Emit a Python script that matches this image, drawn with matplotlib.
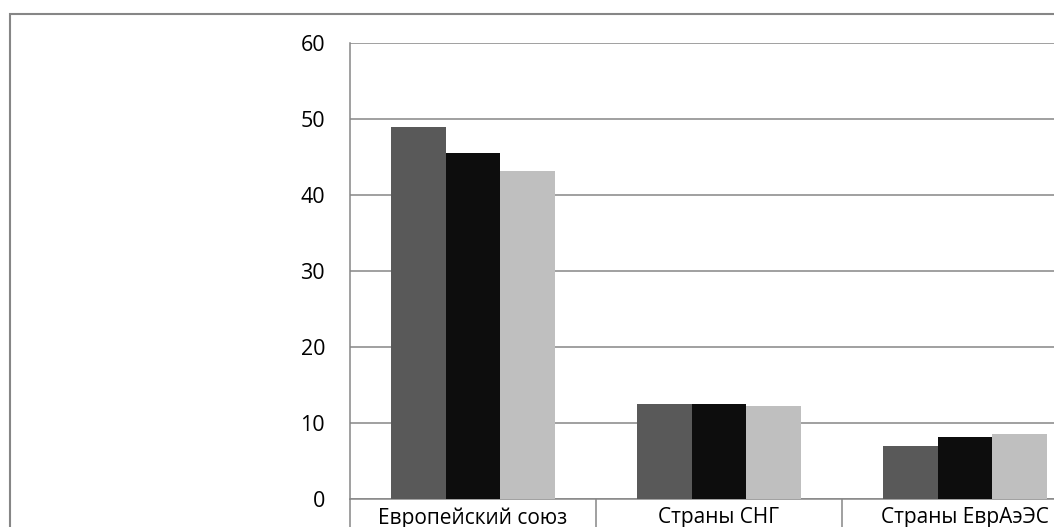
import matplotlib.pyplot as plt
import matplotlib.patches as patches
import numpy as np

# Datos
categorias = ['Европейский союз', 'Страны СНГ', 'Страны ЕврАэЭС']
serie1 = [48.9, 12.45, 7.0]
serie2 = [45.5, 12.45, 8.1]
serie3 = [43.1, 12.25, 8.55]
colores = ['#595959', '#0d0d0d', '#bfbfbf']
yticks = [0, 10, 20, 30, 40, 50, 60]

plt.rcParams['font.family'] = ['Open Sans', 'DejaVu Sans']

fig = plt.figure(figsize=(10.54, 5.27), dpi=100)
ax = fig.add_axes([350/1054, 28/527, 738/1054, 456/527])

# marco exterior (cortado por la derecha y abajo)
marco = patches.Rectangle((10/1054, -0.2), 1.2, (527-14)/527 + 0.2,
                          transform=fig.transFigure, fill=False,
                          edgecolor='#868686', linewidth=1.5, clip_on=False)
fig.patches.append(marco)

x = np.arange(len(categorias))
w = 1/4.5
for i, (s, c) in enumerate(zip([serie1, serie2, serie3], colores)):
    ax.bar(x + (i - 1)*w, s, width=w, color=c, zorder=3)

ax.set_xlim(-0.5, 2.5)
ax.set_ylim(0, 60)
ax.set_yticks(yticks)
ax.yaxis.grid(True, color='#868686', linewidth=1.1)
ax.set_axisbelow(True)
ax.tick_params(axis='y', length=0, pad=18, labelsize=15.5)

# separadores de categorías y etiquetas
ax.set_xticks([-0.5, 0.5, 1.5, 2.5])
ax.set_xticklabels([])
ax.tick_params(axis='x', which='major', length=40, width=1.1, color='#868686')
ax.set_xticks(x, minor=True)
ax.set_xticklabels(categorias, minor=True)
ax.tick_params(axis='x', which='minor', length=0, pad=6, labelsize=15)

for lado in ['top', 'right']:
    ax.spines[lado].set_visible(False)
for lado in ['left', 'bottom']:
    ax.spines[lado].set_color('#868686')
    ax.spines[lado].set_linewidth(1.1)

fig.savefig('out.png', dpi=100)
